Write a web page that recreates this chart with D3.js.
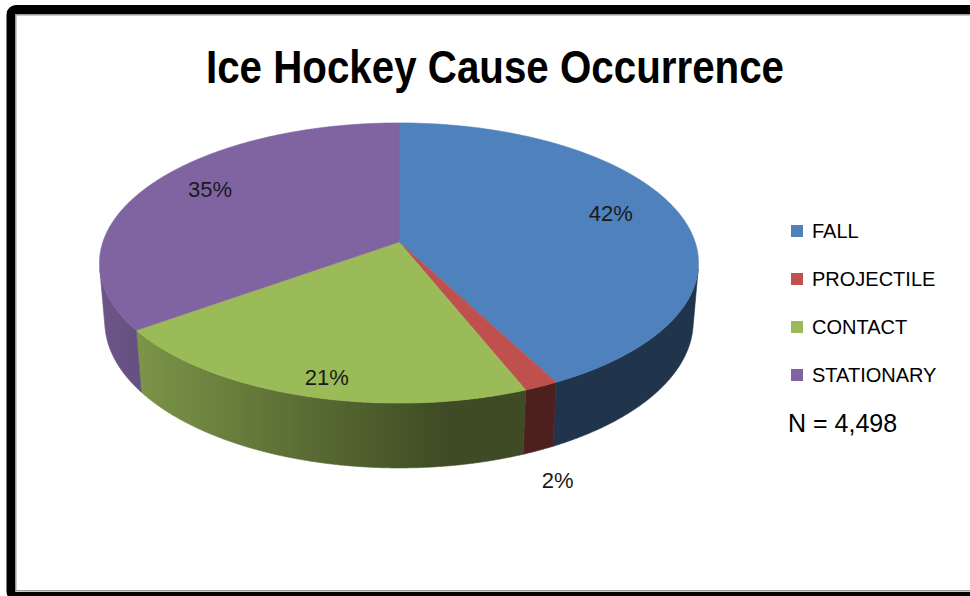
<!DOCTYPE html>
<html><head><meta charset="utf-8">
<script src="https://cdn.jsdelivr.net/npm/d3@7"></script>
<style>body{margin:0;background:#fff} svg{display:block}</style>
</head><body>
<svg id="chart" width="970" height="596"></svg>
<script>
// ---- data ----
const categories = ["FALL", "PROJECTILE", "CONTACT", "STATIONARY"];
const shares = [42.4, 1.6, 21.0, 35.0];           // percent of N
const colors = ["#4F81BD", "#C0504D", "#9BBB59", "#8064A2"];
const titleText = "Ice Hockey Cause Occurrence";
const noteText = "N = 4,498";

// ---- setup ----
const svg = d3.select("#chart");

// frame
svg.append("rect").attr("x", 11).attr("y", 9.5).attr("width", 1000).attr("height", 587)
  .attr("rx", 5).attr("fill", "#fff").attr("stroke", "#000").attr("stroke-width", 9);
svg.append("rect").attr("x", 15.75).attr("y", 14.75).attr("width", 1000).attr("height", 576)
  .attr("fill", "none").attr("stroke", "#9a9a9a").attr("stroke-width", 1.5);

// title
svg.append("text").attr("x", 495).attr("y", 83).attr("text-anchor", "middle")
  .attr("font-family", "'Liberation Sans', Arial, sans-serif").attr("font-weight", "bold")
  .attr("font-size", 47).attr("textLength", 578).attr("lengthAdjust", "spacingAndGlyphs")
  .attr("fill", "#000").text(titleText);

// ---- 3D perspective projection of the pie ----
const cx = 399, cy = 242, f = 1750, D = 5.91;
const alpha = Math.asin(0.4625), ca = Math.cos(alpha), sa = Math.sin(alpha);
const thick = 0.225;
function proj(theta, r, Y, rz) {
  const X = r * Math.sin(theta), Z = (rz === undefined ? r : rz) * Math.cos(theta);
  const yc = Y * ca + Z * sa;
  const zc = -Y * sa + Z * ca + D;
  return [cx + f * X / zc, cy - f * yc / zc];
}
const thMin = Math.acos(-1 / (D * ca));          // visible outer wall range
const thMax = 2 * Math.PI - thMin;
const lightDir = 262 * Math.PI / 180;
const shade = th => 0.4 + 0.45 * Math.max(0, Math.cos(th - lightDir));

const pie = d3.pie().sort(null).value(d => d);
const arcs = pie(shares);
const step = Math.PI / 720;
function samples(a, b) {
  const n = Math.max(2, Math.ceil((b - a) / step));
  return d3.range(n + 1).map(i => a + (b - a) * i / n);
}

const defs = svg.append("defs");
const gWalls = svg.append("g");
const gTops = svg.append("g");

arcs.forEach((a, i) => {
  const base = d3.rgb(colors[i]);
  // outer wall (visible part)
  const s = Math.max(a.startAngle, thMin), e = Math.min(a.endAngle, thMax);
  if (e > s) {
    const ths = samples(s, e);
    const top = ths.map(t => proj(t, 1, 0));
    const bot = ths.map(t => proj(t, 1, -thick)).reverse();
    const x1 = top[0][0], x2 = top[top.length - 1][0];
    const gid = "wall" + i;
    const grad = defs.append("linearGradient").attr("id", gid)
      .attr("gradientUnits", "userSpaceOnUse")
      .attr("x1", x1).attr("y1", 0).attr("x2", x2).attr("y2", 0);
    ths.filter((d, k, arr) => k % 8 === 0 || k === arr.length - 1).forEach(t => {
      const k = shade(t);
      const off = (proj(t, 1, 0)[0] - x1) / (x2 - x1);
      grad.append("stop").attr("offset", Math.min(1, Math.max(0, off)))
        .attr("stop-color", d3.rgb(base.r * k, base.g * k, base.b * k).formatHex());
    });
    gWalls.append("path")
      .attr("d", d3.line()(top.concat(bot)) + "Z")
      .attr("fill", `url(#${gid})`).attr("stroke", `url(#${gid})`).attr("stroke-width", 0.6);
  }
  // top face
  const pts = [proj(0, 0, 0)].concat(samples(a.startAngle, a.endAngle).map(t => proj(t, 1, 0)));
  gTops.append("path").attr("d", d3.line()(pts) + "Z")
    .attr("fill", colors[i]).attr("stroke", colors[i]).attr("stroke-width", 0.6)
    .attr("stroke-linejoin", "round");
});

// data labels
const fmt = v => d3.format(".0f")(v) + "%";
const gLab = svg.append("g").attr("font-family", "'Liberation Sans', Arial, sans-serif")
  .attr("font-size", 22).attr("fill", "#1a1a1a").attr("text-anchor", "middle");
arcs.forEach((a, i) => {
  const mid = (a.startAngle + a.endAngle) / 2;
  let p, baseline;
  if (a.data < 5) {            // small slice: label outside, below the wall
    p = proj(mid, 1.1, -thick); baseline = "hanging"; p[1] += 4; p[0] += 3;
  } else {
    p = proj(mid, 0.76, 0, 0.9); baseline = "central";
  }
  gLab.append("text").attr("x", p[0]).attr("y", p[1])
    .attr("dominant-baseline", baseline).text(fmt(a.data));
});

// legend
const ly = d3.scalePoint().domain(categories).range([231, 375]);
const gLeg = svg.append("g").attr("font-family", "'Liberation Sans', Arial, sans-serif")
  .attr("font-size", 20).attr("fill", "#000");
categories.forEach((c, i) => {
  gLeg.append("rect").attr("x", 791).attr("y", ly(c) - 6).attr("width", 12).attr("height", 12)
    .attr("fill", colors[i]);
  gLeg.append("text").attr("x", 812).attr("y", ly(c)).attr("dominant-baseline", "central").text(c);
});
gLeg.append("text").attr("x", 788).attr("y", 423).attr("font-size", 25)
  .attr("dominant-baseline", "central").text(noteText);
</script>
</body></html>
